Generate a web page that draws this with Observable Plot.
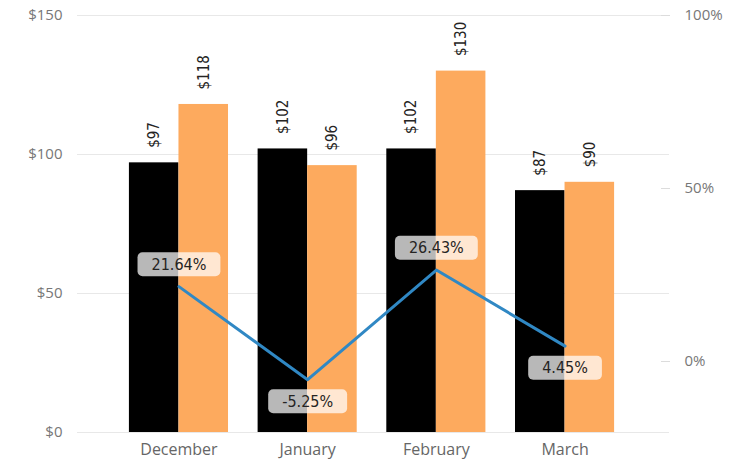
<!DOCTYPE html>
<html>
<head>
<meta charset="utf-8">
<script src="https://cdn.jsdelivr.net/npm/d3@7"></script>
<script src="https://cdn.jsdelivr.net/npm/@observablehq/plot@0.6"></script>
<style>
  html, body { margin: 0; padding: 0; background: #fff; }
  #chart { width: 748px; height: 462px; }
</style>
</head>
<body>
<div id="chart"></div>
<script>
// ---- data ----
const months = ["December", "January", "February", "March"];
const seriesPrev = [97, 102, 102, 87];      // black bars
const seriesCurr = [118, 96, 130, 90];      // orange bars
const pctChange = [0.2164, -0.0525, 0.2643, 0.0445]; // blue line
const leftTicks = [0, 50, 100, 150];
const rightTicks = [0, 0.5, 1];
const rightDomain = [-0.2052, 1.0];          // secondary axis extent

// ---- layout ----
const W = 748, H = 462, mL = 77, mR = 79, mT = 15, mB = 30;
const padIn = 0.23, padOut = 0.415;
const step = (W - mL - mR) / (months.length - padIn + 2 * padOut);
const bw = step * (1 - padIn);

const yMax = leftTicks[leftTicks.length - 1];
const toLeft = p => (p - rightDomain[0]) / (rightDomain[1] - rightDomain[0]) * yMax;
const fromLeft = d => d / yMax * (rightDomain[1] - rightDomain[0]) + rightDomain[0];

const bars = months.map((m, i) => ({month: m, prev: seriesPrev[i], curr: seriesCurr[i]}));
const line = months.map((m, i) => {
  const p = pctChange[i];
  const nb = [pctChange[i - 1], pctChange[i + 1]].filter(v => v !== undefined);
  return {month: m, pct: p, y: toLeft(p), above: nb.every(v => p >= v)};
});

const labelFont = "'DejaVu Sans Condensed', 'DejaVu Sans', sans-serif";
const pctFmt = v => d3.format(".2%")(v).replace("\u2212", "-");

const svg = Plot.plot({
  width: W, height: H,
  marginLeft: mL, marginRight: mR, marginTop: mT, marginBottom: mB,
  style: {fontFamily: "'Open Sans', sans-serif", background: "#fff"},
  x: {type: "band", domain: months, paddingInner: padIn, paddingOuter: padOut, align: 0.486, round: false},
  y: {domain: [0, yMax]},
  marks: [
    Plot.gridY(leftTicks, {stroke: "#e8e8e8", strokeOpacity: 1}),
    Plot.axisY(leftTicks, {anchor: "left", tickSize: 0, tickPadding: 15, tickFormat: d => "$" + d,
      fill: "#777", fontSize: 15, label: null}),
    Plot.axisY(rightTicks.map(toLeft), {anchor: "right", tickSize: -9, tickFormat: () => "",
      stroke: "#dcdcdc", label: null}),
    Plot.axisY(rightTicks.map(toLeft), {anchor: "right", tickSize: 0, tickPadding: 15,
      tickFormat: d => d3.format(".0%")(Math.round(fromLeft(d) * 100) / 100),
      fill: "#777", fontSize: 15, label: null}),
    Plot.axisX({tickSize: 0, tickPadding: 11, fill: "#666", fontSize: 16, label: null}),
    Plot.barY(bars, {x: "month", y: "prev", fill: "#000", insetRight: bw / 2}),
    Plot.barY(bars, {x: "month", y: "curr", fill: "#FDAA5E", insetLeft: bw / 2}),
    Plot.text(bars, {x: "month", y: "prev", text: d => "$" + d.prev, rotate: -90, textAnchor: "start",
      dx: -bw / 4, dy: -15, fontSize: 15, fill: "#252423", fontFamily: labelFont}),
    Plot.text(bars, {x: "month", y: "curr", text: d => "$" + d.curr, rotate: -90, textAnchor: "start",
      dx: bw / 4, dy: -15, fontSize: 15, fill: "#252423", fontFamily: labelFont}),
    Plot.line(line, {x: "month", y: "y", stroke: "#3088C4", strokeWidth: 3}),
    Plot.text(line, {filter: d => d.above, x: "month", y: "y", text: d => pctFmt(d.pct), dy: -22,
      fontSize: 16, fill: "#252423", fontFamily: labelFont, ariaDescription: "pct-labels"}),
    Plot.text(line, {filter: d => !d.above, x: "month", y: "y", text: d => pctFmt(d.pct), dy: 22,
      fontSize: 16, fill: "#252423", fontFamily: labelFont, ariaDescription: "pct-labels"})
  ]
});

document.getElementById("chart").append(svg);

// rounded translucent boxes behind the percentage labels
const ns = "http://www.w3.org/2000/svg";
d3.select(svg).selectAll('g[aria-description="pct-labels"] text').each(function () {
  const b = this.getBBox();
  const r = document.createElementNS(ns, "rect");
  r.setAttribute("x", b.x - 14);
  r.setAttribute("y", b.y + b.height / 2 - 12);
  r.setAttribute("width", b.width + 28);
  r.setAttribute("height", 24);
  r.setAttribute("rx", 5);
  r.setAttribute("fill", "#fff");
  r.setAttribute("fill-opacity", 0.72);
  r.setAttribute("stroke", "none");
  const t = this.getAttribute("transform");
  if (t) r.setAttribute("transform", t);
  this.parentNode.insertBefore(r, this);
});
</script>
</body>
</html>
